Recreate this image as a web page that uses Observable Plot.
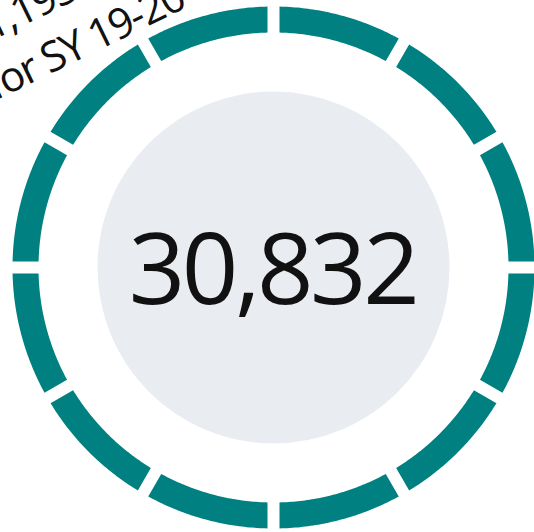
<!DOCTYPE html>
<html>
<head>
<meta charset="utf-8">
<script src="https://cdn.jsdelivr.net/npm/d3@7"></script>
<script src="https://cdn.jsdelivr.net/npm/@observablehq/plot@0.6"></script>
<style>
  html, body { margin: 0; padding: 0; background: #fff; overflow: hidden; }
  #chart svg { display: block; }
  #chart g[font-size="99"] text { letter-spacing: -3.5px; }
  #chart g[font-size="42"] text { letter-spacing: -1.7px; }
</style>
</head>
<body>
<div id="chart"></div>
<script>
// ---- data ----
const segmentValues = [1, 1, 1, 1, 1, 1, 1, 1, 1, 1, 1, 1];
const totalLabels = ["30,832"];
const titleLines = ["Total enrollment 31,193", "students for SY 19-20"];

// ---- layout / style constants ----
const W = 534, H = 532;
const cx = 273, cy = 267;           // pixel centre of the ring
const outerR = 261, innerR = 235;   // ring radii (px)
const halfGap = 6;                  // half width of the white gaps (px)
const discR = 176;                  // inner grey disc (px)
const teal = "#008080";

// ring polygons built from the segment values (pie layout)
const arcs = d3.pie().sort(null).startAngle(0).endAngle(2 * Math.PI)(segmentValues);
const ringRows = arcs.flatMap((p, i) => {
  const pts = [];
  const N = 48;
  const ao = Math.asin(halfGap / outerR), ai = Math.asin(halfGap / innerR);
  const o0 = p.startAngle + ao, o1 = p.endAngle - ao;
  const i0 = p.startAngle + ai, i1 = p.endAngle - ai;
  for (let k = 0; k <= N; k++) {
    const a = o0 + (o1 - o0) * k / N;
    pts.push({seg: i, x: outerR * Math.sin(a), y: outerR * Math.cos(a)});
  }
  for (let k = N; k >= 0; k--) {
    const a = i0 + (i1 - i0) * k / N;
    pts.push({seg: i, x: innerR * Math.sin(a), y: innerR * Math.cos(a)});
  }
  return pts;
});

// title line end points (px) converted to the centred coordinates
const titleRows = [
  {text: titleLines[0], x: 79 - cx, y: cy + 2.3},
  {text: titleLines[1], x: 187 - cx, y: cy - 6.5}
];

const chart = Plot.plot({
  width: W,
  height: H,
  margin: 0,
  style: {background: "#fff"},
  x: {domain: [-cx, W - cx], range: [0, W], axis: null},
  y: {domain: [cy - H, cy], range: [H, 0], axis: null},
  marks: [
    Plot.dot([0], {x: () => 0, y: () => 0, r: discR, fill: "#e9ecf1", stroke: "none"}),
    Plot.line(ringRows, {x: "x", y: "y", z: "seg", fill: teal, stroke: "none"}),
    Plot.text(totalLabels, {
      x: () => 0, y: () => 0, text: d => d,
      fontSize: 99, fontFamily: "Open Sans", fill: "#111",
      textAnchor: "middle", lineAnchor: "middle", dy: 5, dx: -1
    }),
    Plot.text(titleRows, {
      x: "x", y: "y", text: "text", rotate: -26,
      fontSize: 42, fontFamily: "Open Sans", fill: "#111",
      textAnchor: "end", lineAnchor: "bottom"
    })
  ]
});
document.getElementById("chart").appendChild(chart);
</script>
</body>
</html>
